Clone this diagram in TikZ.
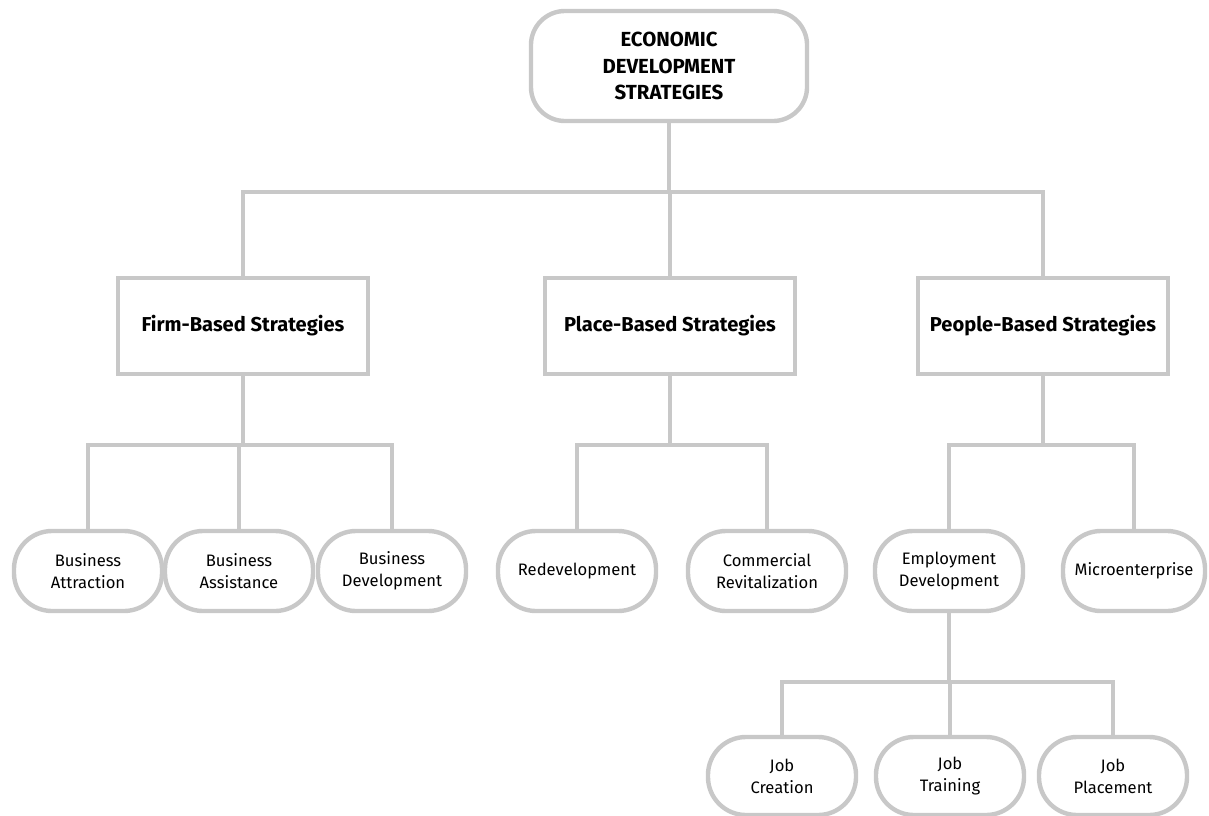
\documentclass[tikz,border=0pt]{standalone}
\usepackage{fontspec}
\setmainfont{Fira Sans}
\usepackage{tikz}
\usetikzlibrary{positioning}
\definecolor{linegray}{RGB}{200,200,200}
\tikzset{%
  every strategy/.style={
    draw=linegray,
    line width=0.11cm,
    fill=white,
    align=center,
    inner sep=2pt
  },
  topnode/.style={
    every strategy,
    rounded corners=0.85cm,
    minimum width=6.9cm,
    minimum height=2.75cm,
    font=\bfseries\fontsize{14.5}{19}\selectfont
  },
  groupbox/.style={
    every strategy,
    minimum width=6.25cm,
    minimum height=2.4cm,
    font=\bfseries\fontsize{14.3}{17}\selectfont
  },
  leafnode/.style={
    every strategy,
    rounded corners=0.95cm,
    minimum height=2cm,
    font=\fontsize{11.8}{15.5}\selectfont
  },
  connector/.style={
    draw=linegray,
    line width=0.11cm
  },
}

\begin{document}
\begin{tikzpicture}[x=0.025cm,y=-0.025cm]
  \useasboundingbox (0,0) rectangle (1209,815);
  \coordinate (bar0) at (0,192);
  \coordinate (bar1) at (0,445);
  \coordinate (bar2) at (0,682);

  \node[topnode] (eds) at (669,66) {ECONOMIC\\DEVELOPMENT\\STRATEGIES};

  \node[groupbox] (firm) at (243,326) {Firm-Based Strategies};
  \node[groupbox] (place) at (670,326) {Place-Based Strategies};
  \node[groupbox] (people) at (1043,326) {People-Based Strategies};

  \foreach \name/\x/\w/\txt in {attraction/88/3.7/{Business\\Attraction},
      assistance/239/3.7/{Business\\Assistance},
      busdev/392/3.7/{Business\\Development},
      redev/577/3.95/{Redevelopment},
      commrev/767/3.95/{Commercial\\Revitalization},
      empdev/949/3.7/{Employment\\Development},
      micro/1134/3.55/{Microenterprise}} {
    \node[leafnode, minimum width=\w cm] (\name) at (\x,571) {\txt};
  }

  \foreach \name/\x/\txt in {jobcreate/782/{Job\\Creation},
      jobtrain/950/{Job\\Training},
      jobplace/1113/{Job\\Placement}} {
    \node[leafnode, minimum width=3.7cm, minimum height=1.95cm] (\name) at (\x,776) {\txt};
  }

  % tree lines
  \foreach \n in {firm,place,people}
    \draw[connector] (eds.south) |- (\n.north |- bar0) -- (\n.north);
  \foreach \n in {attraction,assistance,busdev}
    \draw[connector] (firm.south) |- (\n.north |- bar1) -- (\n.north);
  \foreach \n in {redev,commrev}
    \draw[connector] (place.south) |- (\n.north |- bar1) -- (\n.north);
  \foreach \n in {empdev,micro}
    \draw[connector] (people.south) |- (\n.north |- bar1) -- (\n.north);
  \foreach \n in {jobcreate,jobtrain,jobplace}
    \draw[connector] (empdev.south) |- (\n.north |- bar2) -- (\n.north);
\end{tikzpicture}
\end{document}
